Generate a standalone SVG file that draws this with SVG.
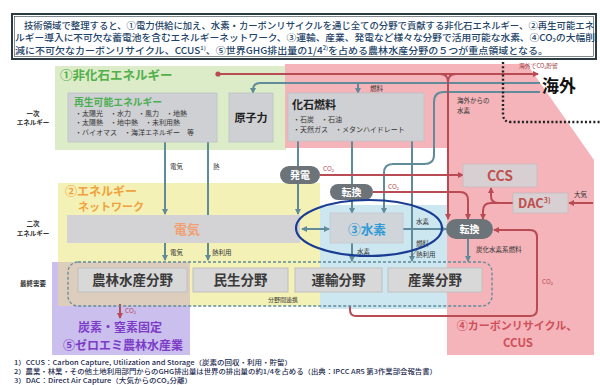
<svg xmlns="http://www.w3.org/2000/svg" width="600" height="385" viewBox="0 0 600 385">
<defs>
<style>
text{font-family:"Noto Sans CJK JP","Noto Sans",sans-serif}
.s{font-size:6.5px;fill:#333}
.box{fill:#cfd0d4;stroke:#bcc2c4;stroke-width:0.8}
.sec{fill:#d8d8d8;stroke:#c0c0c0;stroke-width:1}
.sect{font-size:13.5px;font-weight:bold;fill:#3a3a3a;text-anchor:middle}
.pill{fill:#6c7479}
.pt{font-size:10px;fill:#fff;text-anchor:middle;font-weight:bold}
.t{fill:none;stroke:#5f8b9b;stroke-width:2}
.r{fill:none;stroke:#b84b54;stroke-width:2}
.co2{font-size:6.5px;fill:#b84b54}
.intro{font-size:9.4px;fill:#1e4468;font-weight:500}
.fn{font-size:6.5px;fill:#1c2a50;font-weight:500}
.side{font-size:6.5px;fill:#333;font-weight:bold;text-anchor:middle}
</style>
<marker id="at" viewBox="0 0 6 6" refX="5" refY="3" markerWidth="6" markerHeight="6" markerUnits="userSpaceOnUse" orient="auto-start-reverse"><path d="M0,0 L6,3 L0,6 z" fill="#5f8b9b"/></marker>
<marker id="ar" viewBox="0 0 6 6" refX="5" refY="3" markerWidth="6" markerHeight="6" markerUnits="userSpaceOnUse" orient="auto-start-reverse"><path d="M0,0 L6,3 L0,6 z" fill="#b84b54"/></marker>
</defs>
<rect width="600" height="385" fill="#fff"/>

<g id="intro">
<rect x="12" y="14" width="584" height="45" fill="#fff" stroke="#2b3b44" stroke-width="2"/>
<rect x="14.5" y="16.5" width="579" height="40" fill="none" stroke="#2b3b44" stroke-width="0.6"/>
<text class="intro" x="24" y="28.5" textLength="570" lengthAdjust="spacingAndGlyphs">技術領域で整理すると、①電力供給に加え、水素・カーボンリサイクルを通じ全ての分野で貢献する非化石エネルギー、②再生可能エネ</text>
<text class="intro" x="15" y="41" textLength="580" lengthAdjust="spacingAndGlyphs">ルギー導入に不可欠な蓄電池を含むエネルギーネットワーク、③運輸、産業、発電など様々な分野で活用可能な水素、④CO₂の大幅削</text>
<text class="intro" x="15" y="53.5" textLength="533" lengthAdjust="spacingAndGlyphs">減に不可欠なカーボンリサイクル、CCUS<tspan font-size="5.5" baseline-shift="4">1)</tspan>、⑤世界GHG排出量の1/4<tspan font-size="5.5" baseline-shift="4">2)</tspan>を占める農林水産分野の５つが重点領域となる。</text>
</g>

<g id="regions">
<rect x="55" y="66" width="231" height="84" fill="#dcebc8"/>
<path d="M285,64 H527 L594,160 V355 H447 V148 H285 Z" fill="#f4b4ba"/>
<rect x="58" y="183" width="262" height="123" fill="#f4f1b6"/>
<rect x="320" y="205" width="127" height="104" fill="#cde7f1"/>
<rect x="52" y="262" width="138" height="93" fill="#cbbfee"/>
<rect x="58" y="262" width="132" height="44" fill="#ddcdbd"/>
</g>

<g id="side-labels">
<text class="side" x="33" y="116">一次</text>
<text class="side" x="33" y="125">エネルギー</text>
<text class="side" x="33" y="226">二次</text>
<text class="side" x="33" y="236">エネルギー</text>
<text class="side" x="33" y="286">最終需要</text>
</g>

<g id="connectors">
<path class="t" d="M165,142 V214" marker-end="url(#at)"/>
<path class="t" d="M208,142 V215"/>
<path class="t" d="M165,243 V260" marker-end="url(#at)"/>
<path class="t" d="M208,243 V260" marker-end="url(#at)"/>
<path class="t" d="M298,141 V214" marker-end="url(#at)"/>
<path class="t" d="M352,141 V213" marker-end="url(#at)"/>
<path class="t" d="M412,141 V261" marker-end="url(#at)"/>
<path class="t" d="M540,83 H260 Q253,83 253,90 V93" marker-end="url(#at)"/>
<path class="t" d="M358,83 V93" marker-end="url(#at)"/>
<path class="t" d="M540,92 H444 Q434,92 434,102 V155 Q434,164 424,164 H393 Q384,164 384,173 V213" marker-end="url(#at)"/>
<path class="t" d="M403,229 H446" marker-end="url(#at)"/>
<path class="t" d="M302,229 H329" marker-start="url(#at)" marker-end="url(#at)"/>
<path class="t" d="M352,243 V261" marker-end="url(#at)"/>
<path class="t" d="M468,239 V261" marker-end="url(#at)"/>
<line x1="411" y1="257" x2="423" y2="243" stroke="#555" stroke-width="0.6"/>
<circle cx="218" cy="74" r="2.6" fill="#b84b54"/>
<path class="r" d="M218,74 H538" marker-end="url(#ar)"/>
<path class="r" d="M440,74 Q448,74 448,82 M456,74 Q448,74 448,82 V219" marker-end="url(#ar)"/>
<path class="r" d="M320,175 H463" marker-end="url(#ar)"/>
<path class="r" d="M373,192 H460 Q468,192 468,200 V219" marker-end="url(#ar)"/>
<path class="r" d="M593,203 H569" marker-end="url(#ar)"/>
<path class="r" d="M513,203 H499 Q491,203 491,196 V188" marker-end="url(#ar)"/>
<path class="r" d="M499,203 H491 Q483,203 483,211 V219" marker-end="url(#ar)"/>
<path class="r" d="M350,306 V310 Q350,316 356,316 H530 Q537,316 537,309 V237 Q537,230 530,230 H494" marker-end="url(#ar)"/>
<path class="r" d="M120,304 V318" marker-end="url(#ar)"/>
<path d="M503,62 V114 Q503,122 511,122 H600" fill="none" stroke="#222" stroke-width="2.4" stroke-dasharray="2 2.2"/>
</g>

<g id="connector-labels">
<text class="s" x="370" y="91">燃料</text>
<text class="s" x="457" y="103">海外からの</text>
<text class="s" x="457" y="113">水素</text>
<text x="519" y="68" font-size="5.8" fill="#9e3d46">海外でCO₂貯留</text>
<text class="s" x="170" y="169">電気</text>
<text class="s" x="213" y="169">熱</text>
<text class="s" x="170" y="255">電気</text>
<text class="s" x="212" y="255">熱利用</text>
<text class="s" x="416" y="224">水素</text>
<text class="s" x="357" y="254">水素</text>
<text class="s" x="416" y="246">燃料</text>
<text class="s" x="416" y="257">熱利用</text>
<text class="s" x="476" y="252">炭化水素系燃料</text>
<text class="co2" x="323" y="171">CO₂</text>
<text class="co2" x="388" y="189">CO₂</text>
<text class="co2" x="542" y="284">CO₂</text>
<text class="co2" x="125" y="313">CO₂</text>
<text class="s" x="574" y="197">大気</text>
<text x="268" y="302" font-size="6" fill="#333">分野間連携</text>
</g>

<g id="n1-nonfossil">
<text x="60" y="80" font-size="12.5" font-weight="bold" fill="#52b04a">①非化石エネルギー</text>
</g>

<g id="renewables">
<rect class="box" x="68" y="93" width="149" height="49"/>
<text x="74" y="106" font-size="9.8" font-weight="bold" fill="#4caf50">再生可能エネルギー</text>
<text x="75" y="116" font-size="7" fill="#333">・太陽光　・水力　・風力　・地熱</text>
<text x="75" y="125" font-size="7" fill="#333">・太陽熱　・地中熱　・未利用熱</text>
<text x="75" y="135" font-size="7" fill="#333">・バイオマス　・海洋エネルギー　等</text>
</g>

<g id="nuclear">
<rect class="box" x="229" y="93" width="44" height="49"/>
<text x="251" y="122" font-size="11" font-weight="bold" fill="#222" text-anchor="middle">原子力</text>
</g>

<g id="fossil">
<rect class="box" x="288" y="93" width="136" height="48"/>
<text x="292" y="109" font-size="11" font-weight="bold" fill="#222">化石燃料</text>
<text x="293" y="122" font-size="7" fill="#333">・石炭　・石油</text>
<text x="293" y="132" font-size="7" fill="#333">・天然ガス　・メタンハイドレート</text>
</g>

<g id="overseas">
<text x="542" y="92" font-size="17" font-weight="bold" fill="#111">海外</text>
</g>

<g id="n2-network">
<text x="65" y="196" font-size="12" font-weight="bold" fill="#f0a23c">②エネルギー</text>
<text x="78" y="211" font-size="11" font-weight="bold" fill="#f0a23c">ネットワーク</text>
</g>

<g id="electricity">
<rect x="67" y="215" width="233" height="28" fill="#d3d3d6"/>
<text x="187" y="234" font-size="13" font-weight="bold" fill="#f2a070" text-anchor="middle">電気</text>
</g>

<g id="power-gen">
<rect class="pill" x="280" y="166" width="40" height="18" rx="9"/>
<text class="pt" x="300" y="179">発電</text>
</g>

<g id="convert-left">
<rect class="pill" x="330" y="184" width="43" height="16" rx="8"/>
<text class="pt" x="351.5" y="195.5">転換</text>
</g>

<g id="hydrogen">
<rect x="330" y="213" width="73" height="30" fill="#d0d5da" stroke="#c0c8cc" stroke-width="0.8"/>
<text x="367" y="234" font-size="12.7" font-weight="bold" fill="#2e9bd6" text-anchor="middle">③水素</text>
<ellipse cx="369" cy="228" rx="73" ry="28" fill="none" stroke="#1a3d93" stroke-width="2.2"/>
</g>

<g id="convert-right">
<rect class="pill" x="446" y="219" width="47" height="20" rx="10"/>
<text class="pt" x="469.5" y="232.5">転換</text>
</g>

<g id="ccs">
<rect x="463" y="164" width="74" height="23" fill="#d8cfd2" stroke="#c8b8bc" stroke-width="0.8"/>
<text x="500" y="181" font-size="14" font-weight="bold" fill="#c0504d" text-anchor="middle">CCS</text>
</g>

<g id="dac">
<rect x="513" y="193" width="55" height="20" fill="#d8cfd2" stroke="#c8b8bc" stroke-width="0.8"/>
<text x="518" y="208" font-size="13" font-weight="bold" fill="#c0504d">DAC<tspan font-size="7" baseline-shift="5">3)</tspan></text>
</g>

<g id="end-use">
<rect x="68" y="262" width="424" height="44" rx="10" fill="none" stroke="#5f8b9b" stroke-width="1.3" stroke-dasharray="3 2"/>
<rect class="sec" x="78" y="268" width="109" height="24"/>
<text class="sect" x="132.5" y="285">農林水産分野</text>
<rect class="sec" x="193" y="268" width="95" height="24"/>
<text class="sect" x="240.5" y="285">民生分野</text>
<rect class="sec" x="295" y="268" width="87" height="24"/>
<text class="sect" x="338.5" y="285">運輸分野</text>
<rect class="sec" x="388" y="268" width="94" height="24"/>
<text class="sect" x="435" y="285">産業分野</text>
</g>

<g id="n4-ccus">
<text x="517" y="330" font-size="11" font-weight="bold" fill="#d0505a" text-anchor="middle">④カーボンリサイクル、</text>
<text x="518" y="347" font-size="11.5" font-weight="bold" fill="#d0505a" text-anchor="middle">CCUS</text>
</g>

<g id="n5-agri">
<text x="120" y="332" font-size="12" font-weight="bold" fill="#7d3cc8" text-anchor="middle">炭素・窒素固定</text>
<text x="123" y="350" font-size="12" font-weight="bold" fill="#7d3cc8" text-anchor="middle">⑤ゼロエミ農林水産業</text>
</g>

<g id="footnotes">
<text class="fn" x="14" y="365" textLength="278" lengthAdjust="spacingAndGlyphs">1）CCUS：Carbon Capture, Utilization and Storage（炭素の回収・利用・貯留）</text>
<text class="fn" x="14" y="374" textLength="423" lengthAdjust="spacingAndGlyphs">2）農業・林業・その他土地利用部門からのGHG排出量は世界の排出量の約1/4を占める（出典：IPCC AR5 第3作業部会報告書）</text>
<text class="fn" x="14" y="383" textLength="178" lengthAdjust="spacingAndGlyphs">3）DAC：Direct Air Capture（大気からのCO₂分離）</text>
</g>
</svg>
